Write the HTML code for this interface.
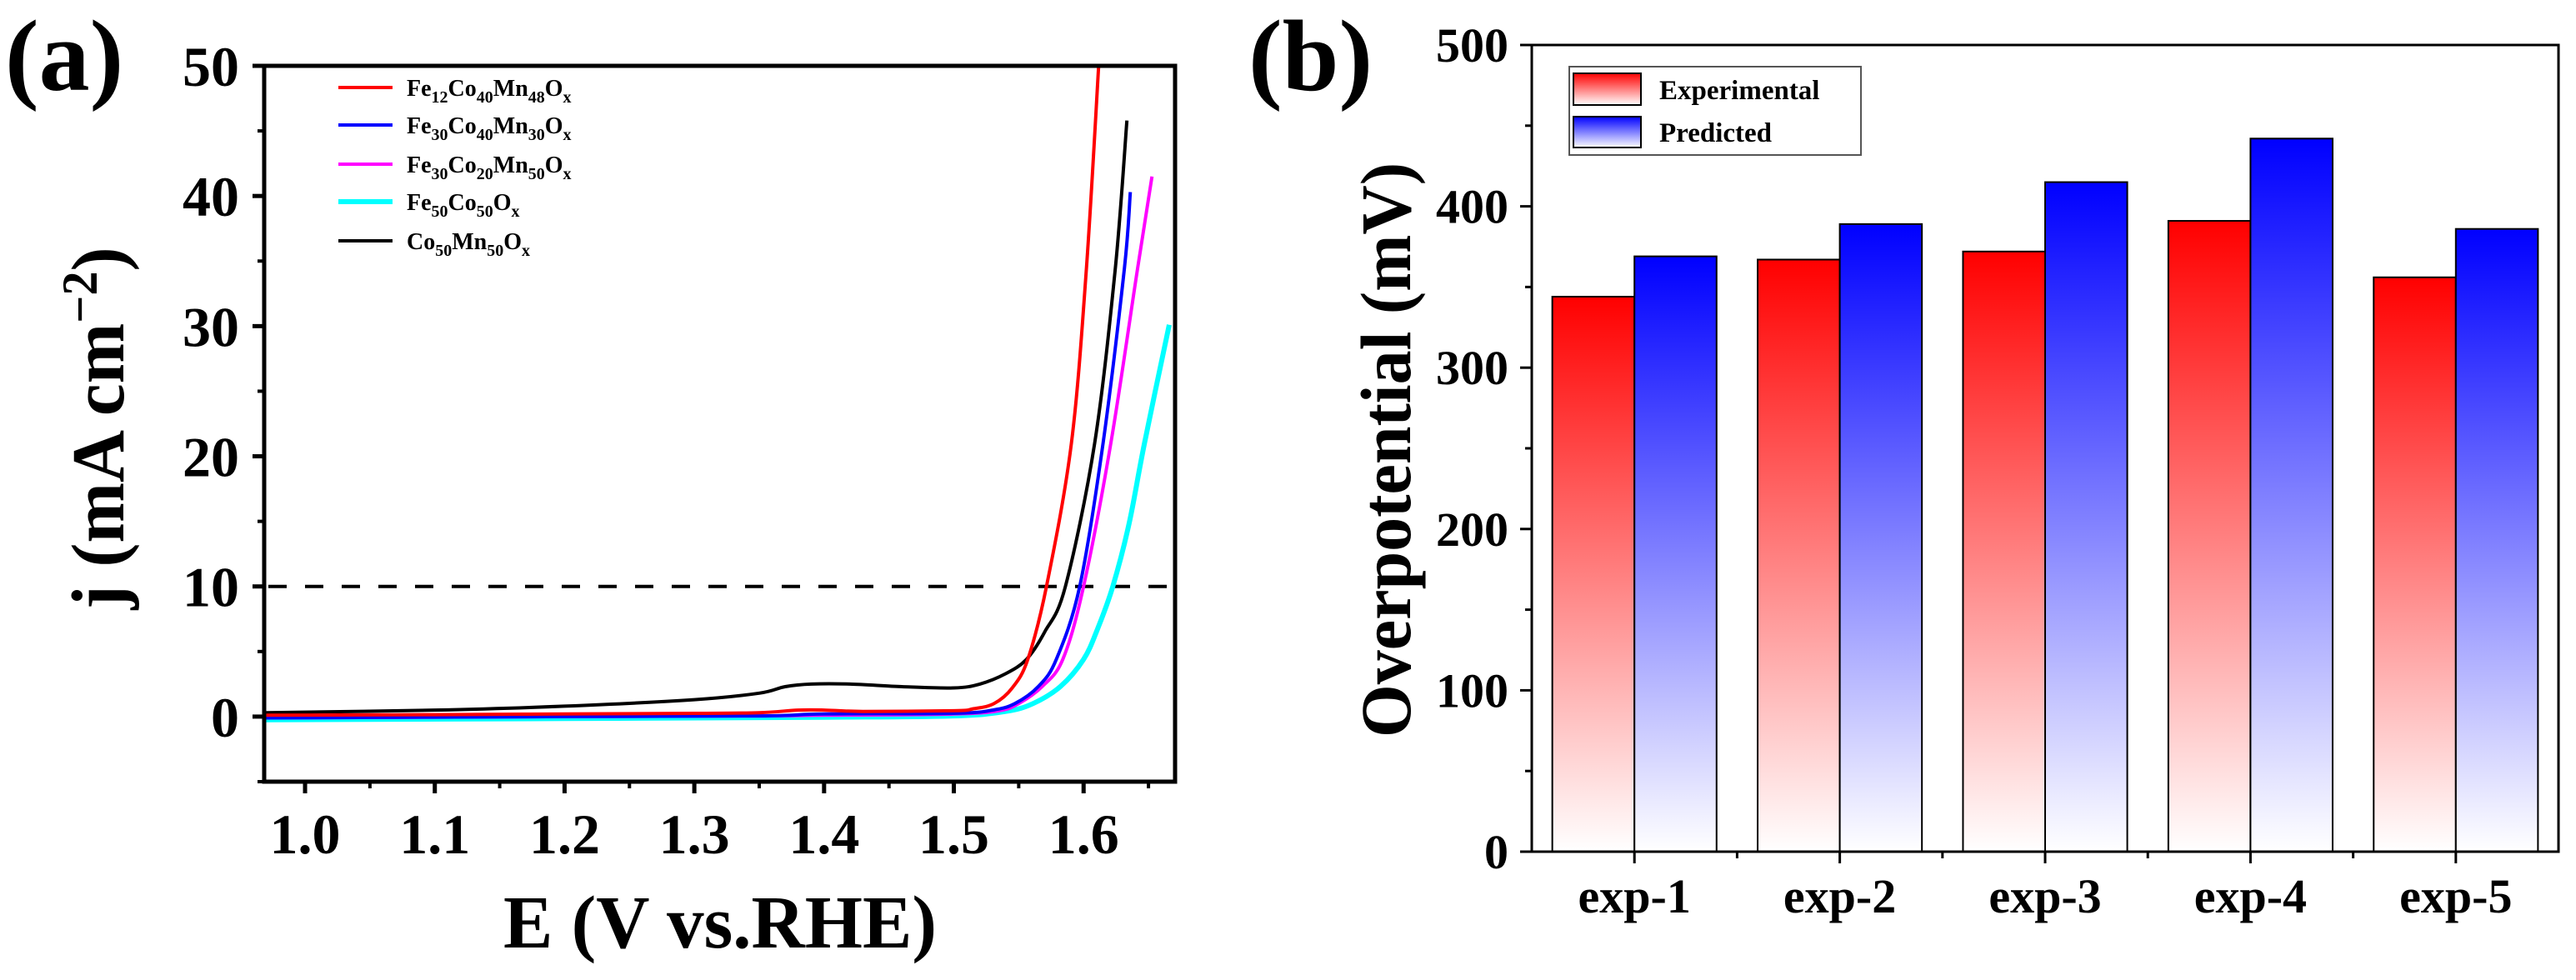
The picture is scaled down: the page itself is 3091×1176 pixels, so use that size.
<!DOCTYPE html>
<html><head><meta charset="utf-8"><style>
html,body{margin:0;padding:0;background:#fff;}
svg{display:block;font-family:"Liberation Serif","Times New Roman",serif;font-weight:bold;}
svg text{font-family:"Liberation Serif","Times New Roman",serif;}
</style></head><body>
<svg id="fig" width="3091" height="1176" viewBox="0 0 3091 1176" xmlns="http://www.w3.org/2000/svg">
<defs>
<linearGradient id="gRed" x1="0" y1="0" x2="0" y2="1"><stop offset="0" stop-color="#ff0000"/><stop offset="1" stop-color="#ffffff"/></linearGradient>
<linearGradient id="gBlue" x1="0" y1="0" x2="0" y2="1"><stop offset="0" stop-color="#0000ff"/><stop offset="1" stop-color="#ffffff"/></linearGradient>
</defs>
<g id="pa"></g>
<g id="pb"></g>
</svg>
<script>
// ---------- Panel (a) data ----------
const seriesNames = ["Fe12Co40Mn48Ox","Fe30Co40Mn30Ox","Fe30Co20Mn50Ox","Fe50Co50Ox","Co50Mn50Ox"];
const seriesColors = ["#ff0000","#0000ff","#ff00ff","#00ffff","#000000"];
const redE = [0.97,1.1,1.2,1.3,1.35,1.38,1.4,1.43,1.5,1.515,1.531,1.545,1.557,1.5714,1.5906,1.6022,1.6116];
const redJ = [0.1,0.15,0.2,0.25,0.3,0.5,0.5,0.4,0.45,0.6,1.0,2.2,4.4,10,21,34.5,50];
const blueE = [0.97,1.2,1.35,1.4,1.5,1.53,1.547,1.565,1.579,1.597,1.615,1.6315,1.636];
const blueJ = [-0.1,0,0.05,0.2,0.25,0.5,1.0,2.3,4.4,10,21,34.5,40.3];
const magE = [0.97,1.2,1.35,1.4,1.5,1.535,1.55,1.568,1.584,1.6,1.621,1.6417,1.6527];
const magJ = [-0.1,0,0.05,0.1,0.2,0.45,1.0,2.3,4.4,10,21,34.5,41.5];
const cyanE = [0.97,1.2,1.4,1.5,1.54,1.561,1.582,1.6,1.611,1.6225,1.635,1.6469,1.666];
const cyanJ = [-0.25,-0.15,-0.05,0.05,0.4,1.0,2.3,4.4,6.8,10,14.8,21,30.1];
const blackE = [0.97,1.1,1.2,1.3,1.35,1.37,1.39,1.42,1.46,1.5,1.52,1.54,1.556,1.57,1.586,1.6085,1.6245,1.6334];
const blackJ = [0.3,0.5,0.8,1.3,1.8,2.3,2.5,2.5,2.3,2.2,2.5,3.3,4.4,6.5,10,21,34.5,45.8];
const xTicksA = [1.0,1.1,1.2,1.3,1.4,1.5,1.6];
const xTickLabelsA = ["1.0","1.1","1.2","1.3","1.4","1.5","1.6"];
const yTicksA = [0,10,20,30,40,50];
const yTickLabelsA = ["0","10","20","30","40","50"];
const refLineJ = 10;
// ---------- Panel (b) data ----------
const categories = ["exp-1","exp-2","exp-3","exp-4","exp-5"];
const experimental = [344,367,372,391,356];
const predicted = [369,389,415,442,386];
const yTicksB = [0,100,200,300,400,500];
const yTickLabelsB = ["0","100","200","300","400","500"];

const NS="http://www.w3.org/2000/svg";
function mk(parent,tag,attrs,text){const e=document.createElementNS(NS,tag);for(const k in attrs)e.setAttribute(k,attrs[k]);if(text!==undefined)e.textContent=text;parent.appendChild(e);return e;}

// ===== Panel A =====
const pa=document.getElementById('pa');
const AL=317,AR=1410,AT=79,AB=938;
const xMinA=0.9685,xMaxA=1.6705,yMinA=-5,yMaxA=50;
const xA=v=>AL+(v-xMinA)/(xMaxA-xMinA)*(AR-AL);
const yA=v=>AB-(v-yMinA)/(yMaxA-yMinA)*(AB-AT);
function smoothPath(px,py){let d="M"+px[0].toFixed(1)+","+py[0].toFixed(1);for(let i=0;i<px.length-1;i++){const x0=px[Math.max(i-1,0)],y0=py[Math.max(i-1,0)],x1=px[i],y1=py[i],x2=px[i+1],y2=py[i+1],x3=px[Math.min(i+2,px.length-1)],y3=py[Math.min(i+2,px.length-1)];const c1x=x1+(x2-x0)/6,c1y=y1+(y2-y0)/6,c2x=x2-(x3-x1)/6,c2y=y2-(y3-y1)/6;d+=" C"+c1x.toFixed(1)+","+c1y.toFixed(1)+" "+c2x.toFixed(1)+","+c2y.toFixed(1)+" "+x2.toFixed(1)+","+y2.toFixed(1);}return d;}
let t=mk(pa,'text',{x:6,y:108,'font-size':122},"(a)");


let dl=mk(pa,'line',{x1:AL+5,x2:AR-5,y1:yA(refLineJ),y2:yA(refLineJ),stroke:'#000','stroke-width':4,'stroke-dasharray':'22,22'});


const sE=[redE,blueE,magE,cyanE,blackE], sJ=[redJ,blueJ,magJ,cyanJ,blackJ];
const sW=[4,4,4,6,4];
const order=[3,2,1,4,0];
order.forEach(i=>{const p=mk(pa,'path',{d:smoothPath(sE[i].map(xA),sJ[i].map(yA)),fill:'none',stroke:seriesColors[i],'stroke-width':sW[i],'stroke-linejoin':'round'});

});
let fr=mk(pa,'rect',{x:AL,y:AT,width:AR-AL,height:AB-AT,fill:'none',stroke:'#000','stroke-width':5});


xTicksA.forEach((v,i)=>{mk(pa,'line',{x1:xA(v),x2:xA(v),y1:AB,y2:AB+14,stroke:'#000','stroke-width':5});
const tl=mk(pa,'text',{x:xA(v),y:1024,'font-size':68,'text-anchor':'middle'},xTickLabelsA[i]);


const m=v+0.05;if(m<xMaxA)mk(pa,'line',{x1:xA(m),x2:xA(m),y1:AB,y2:AB+8,stroke:'#000','stroke-width':4});});
yTicksA.forEach((v,i)=>{mk(pa,'line',{x1:AL-14,x2:AL,y1:yA(v),y2:yA(v),stroke:'#000','stroke-width':5});
const tl=mk(pa,'text',{x:287,y:yA(v)+24,'font-size':68,'text-anchor':'end'},yTickLabelsA[i]);


const m=v+5;if(m<yMaxA)mk(pa,'line',{x1:AL-8,x2:AL,y1:yA(m),y2:yA(m),stroke:'#000','stroke-width':4});});
mk(pa,'line',{x1:AL-8,x2:AL,y1:yA(-5),y2:yA(-5),stroke:'#000','stroke-width':4});
let xt=mk(pa,'text',{x:864,y:1137,'font-size':90,'text-anchor':'middle',textLength:520,lengthAdjust:'spacingAndGlyphs'},"E (V vs.RHE)");


let yt=mk(pa,'text',{x:0,y:0,'font-size':90,'text-anchor':'middle',transform:'translate(148,514) rotate(-90)',textLength:435,lengthAdjust:'spacingAndGlyphs'});


yt.innerHTML='j (mA cm<tspan dy="-32" font-size="60">−2</tspan><tspan dy="32">)</tspan>';
const legY=[105,150,197,242,289];
const legHTML=['Fe<tspan font-size="20" dy="8">12</tspan><tspan dy="-8">Co</tspan><tspan font-size="20" dy="8">40</tspan><tspan dy="-8">Mn</tspan><tspan font-size="20" dy="8">48</tspan><tspan dy="-8">O</tspan><tspan font-size="20" dy="8">x</tspan>',
'Fe<tspan font-size="20" dy="8">30</tspan><tspan dy="-8">Co</tspan><tspan font-size="20" dy="8">40</tspan><tspan dy="-8">Mn</tspan><tspan font-size="20" dy="8">30</tspan><tspan dy="-8">O</tspan><tspan font-size="20" dy="8">x</tspan>',
'Fe<tspan font-size="20" dy="8">30</tspan><tspan dy="-8">Co</tspan><tspan font-size="20" dy="8">20</tspan><tspan dy="-8">Mn</tspan><tspan font-size="20" dy="8">50</tspan><tspan dy="-8">O</tspan><tspan font-size="20" dy="8">x</tspan>',
'Fe<tspan font-size="20" dy="8">50</tspan><tspan dy="-8">Co</tspan><tspan font-size="20" dy="8">50</tspan><tspan dy="-8">O</tspan><tspan font-size="20" dy="8">x</tspan>',
'Co<tspan font-size="20" dy="8">50</tspan><tspan dy="-8">Mn</tspan><tspan font-size="20" dy="8">50</tspan><tspan dy="-8">O</tspan><tspan font-size="20" dy="8">x</tspan>'];
seriesNames.forEach((n,i)=>{const g=mk(pa,'g',{});


mk(g,'line',{x1:406,x2:471,y1:legY[i],y2:legY[i],stroke:seriesColors[i],'stroke-width':i==3?6:4});
const tx=mk(g,'text',{x:488,y:legY[i]+10,'font-size':28});tx.innerHTML=legHTML[i];});

// ===== Panel B =====
const pb=document.getElementById('pb');
const BL=1838,BR=3070,BT=54,BB=1022;
const xB=v=>BL+(v-0.5)/5*(BR-BL);
const yB=v=>BB-v/500*(BB-BT);
let tb=mk(pb,'text',{x:1498,y:108,'font-size':122},"(b)");


categories.forEach((c,i)=>{
const r1=mk(pb,'rect',{x:xB(i+1)-0.4*(BR-BL)/5,y:yB(experimental[i]),width:0.4*(BR-BL)/5,height:BB-yB(experimental[i]),fill:'url(#gRed)',stroke:'#000','stroke-width':2});


const r2=mk(pb,'rect',{x:xB(i+1),y:yB(predicted[i]),width:0.4*(BR-BL)/5,height:BB-yB(predicted[i]),fill:'url(#gBlue)',stroke:'#000','stroke-width':2});


mk(pb,'line',{x1:xB(i+1),x2:xB(i+1),y1:BB,y2:BB+14,stroke:'#000','stroke-width':3});
if(i<categories.length-1)mk(pb,'line',{x1:xB(i+1.5),x2:xB(i+1.5),y1:BB,y2:BB+8,stroke:'#000','stroke-width':3});
const cl=mk(pb,'text',{x:xB(i+1),y:1095,'font-size':58,'text-anchor':'middle'},c);

});
let fb=mk(pb,'rect',{x:BL,y:BT,width:BR-BL,height:BB-BT,fill:'none',stroke:'#000','stroke-width':3});


yTicksB.forEach((v,i)=>{mk(pb,'line',{x1:BL-14,x2:BL,y1:yB(v),y2:yB(v),stroke:'#000','stroke-width':3});
const tl=mk(pb,'text',{x:1810,y:yB(v)+20,'font-size':58,'text-anchor':'end'},yTickLabelsB[i]);


if(v<500)mk(pb,'line',{x1:BL-8,x2:BL,y1:yB(v+50),y2:yB(v+50),stroke:'#000','stroke-width':3});});
let ybt=mk(pb,'text',{x:0,y:0,'font-size':86,'text-anchor':'middle',transform:'translate(1692,540) rotate(-90)',textLength:690,lengthAdjust:'spacingAndGlyphs'},"Overpotential (mV)");


const lg=mk(pb,'g',{});


mk(lg,'rect',{x:1883,y:80,width:350,height:106,fill:'#fff',stroke:'#555','stroke-width':2});
mk(lg,'rect',{x:1888,y:88,width:81,height:38,fill:'url(#gRed)',stroke:'#000','stroke-width':2});
mk(lg,'rect',{x:1888,y:140,width:81,height:37,fill:'url(#gBlue)',stroke:'#000','stroke-width':2});
mk(lg,'text',{x:1991,y:119,'font-size':33},"Experimental");
mk(lg,'text',{x:1991,y:170,'font-size':33},"Predicted");
</script>
</body></html>
